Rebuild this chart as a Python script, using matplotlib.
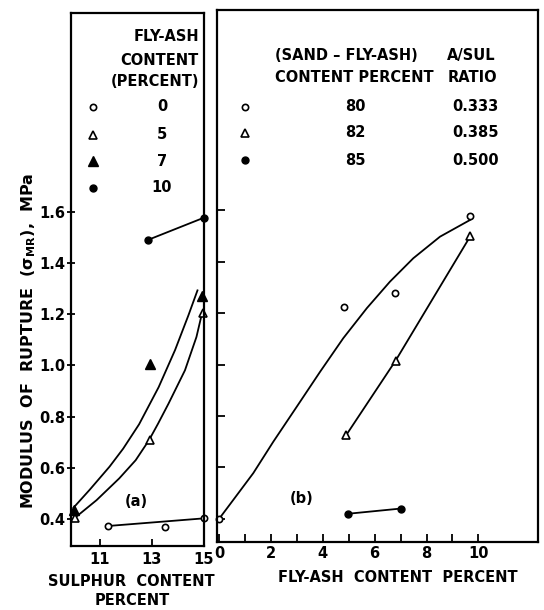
import matplotlib
matplotlib.use("Agg")
import matplotlib.pyplot as plt

plt.rcParams["font.family"] = "DejaVu Sans"
plt.rcParams["font.weight"] = "bold"
plt.rcParams["mathtext.default"] = "regular"

# ---- panel (a): modulus of rupture vs sulphur content ----
a_fa0_x = [11.3, 13.5, 15.0]          # 0 % fly-ash, open circles
a_fa0_y = [0.373, 0.368, 0.403]
a_fa5_x = [10.05, 12.92, 14.96]       # 5 %, open triangles
a_fa5_y = [0.405, 0.708, 1.205]
a_fa7_x = [10.03, 12.92, 14.94]       # 7 %, filled triangles
a_fa7_y = [0.435, 1.007, 1.273]
a_fa10_x = [12.85, 15.0]              # 10 %, filled circles
a_fa10_y = [1.49, 1.577]

# hand-drawn fit curves
a_curve5_x = [10.05, 10.88, 11.75, 12.38, 12.89, 13.24, 13.64, 14.27, 14.71, 14.92]
a_curve5_y = [0.405, 0.474, 0.559, 0.630, 0.708, 0.773, 0.851, 0.981, 1.111, 1.202]
a_curve7_x = [10.0, 10.62, 11.38, 11.9, 12.51, 13.26, 13.89, 14.40, 14.75]
a_curve7_y = [0.445, 0.515, 0.605, 0.675, 0.770, 0.915, 1.06, 1.195, 1.293]

# ---- panel (b): modulus of rupture vs fly-ash content ----
b_s80_x = [0.0, 4.8, 6.78, 9.69]      # 80 %, open circles
b_s80_y = [0.40, 1.226, 1.28, 1.577]
b_s82_x = [4.91, 6.81, 9.69]          # 82 %, open triangles
b_s82_y = [0.727, 1.016, 1.50]
b_s85_x = [4.99, 7.0]                 # 85 %, filled circles
b_s85_y = [0.42, 0.44]

b_curve80_x = [0.0, 0.55, 1.32, 2.09, 3.0, 3.9, 4.79, 5.7, 6.59, 7.49, 8.52, 9.68]
b_curve80_y = [0.40, 0.474, 0.578, 0.70, 0.837, 0.973, 1.103, 1.22, 1.323, 1.414, 1.498, 1.563]

legend_a = ["0", "5", "7", "10"]
legend_b_pct = ["80", "82", "85"]
legend_b_ratio = ["0.333", "0.385", "0.500"]

FS = 10.5
LW = 1.3
oc = dict(marker="o", ms=4.5, mfc="white", mec="black", mew=1.2, ls="none")
ot = dict(marker="^", ms=6, mfc="white", mec="black", mew=1.2, ls="none")
ft = dict(marker="^", ms=6.5, mfc="black", mec="black", ls="none")
fc = dict(marker="o", ms=5, mfc="black", mec="black", ls="none")

fig = plt.figure(figsize=(5.44, 6.10), dpi=100)
axa = fig.add_axes([0.1305, 0.1049, 0.2445, 0.8738])
axb = fig.add_axes([0.3989, 0.1115, 0.5901, 0.8721])

for ax in (axa, axb):
    for s in ax.spines.values():
        s.set_linewidth(1.6)

# panel (a)
axa.plot([a_fa0_x[0], a_fa0_x[-1]], [a_fa0_y[0], a_fa0_y[-1]], color="black", lw=LW)
axa.plot(a_fa0_x, a_fa0_y, clip_on=False, **oc)
axa.plot(a_curve5_x, a_curve5_y, color="black", lw=LW)
axa.plot(a_curve7_x, a_curve7_y, color="black", lw=LW)
axa.plot(a_fa5_x, a_fa5_y, clip_on=False, **ot)
axa.plot(a_fa7_x, a_fa7_y, clip_on=False, **ft)
axa.plot(a_fa10_x, a_fa10_y, color="black", lw=LW)
axa.plot(a_fa10_x, a_fa10_y, clip_on=False, **fc)
axa.set_xlim(9.9, 15.0)
axa.set_ylim(0.295, 2.376)
axa.set_xticks([11, 13, 15])
axa.set_yticks([0.4, 0.6, 0.8, 1.0, 1.2, 1.4, 1.6])
axa.set_yticklabels(["0.4", "0.6", "0.8", "1.0", "1.2", "1.4", "1.6"])
axa.tick_params(axis="y", direction="inout", length=6, width=1.3, pad=1, labelsize=FS)
axa.tick_params(axis="x", direction="in", length=5, width=1.3, pad=4, labelsize=FS)
axa.text(12.42, 0.467, "(a)", fontsize=FS, ha="center", va="center")

# legend of panel (a)
tr = axa.transAxes
axa.text(0.962, 0.955, "FLY-ASH", transform=tr, ha="right", va="center", fontsize=FS)
axa.text(0.962, 0.910, "CONTENT", transform=tr, ha="right", va="center", fontsize=FS)
axa.text(0.962, 0.871, "(PERCENT)", transform=tr, ha="right", va="center", fontsize=FS)
rows_a = [0.824, 0.772, 0.722, 0.672]
for st, lab, yy in zip([oc, ot, ft, fc], legend_a, rows_a):
    axa.plot([0.165], [yy], transform=tr, **st)
    axa.text(0.684, yy, lab, transform=tr, ha="center", va="center", fontsize=FS)

# panel (b)
axb.plot(b_curve80_x, b_curve80_y, color="black", lw=LW)
axb.plot(b_s80_x, b_s80_y, clip_on=False, **oc)
axb.plot(b_s82_x, b_s82_y, color="black", lw=LW)
axb.plot(b_s82_x, b_s82_y, **ot)
axb.plot(b_s85_x, b_s85_y, color="black", lw=LW)
axb.plot(b_s85_x, b_s85_y, **fc)
axb.set_xlim(-0.08, 12.3)
axb.set_ylim(0.31, 2.38)
axb.set_xticks([0, 2, 4, 6, 8, 10])
axb.set_xticks([1, 3, 5, 7, 9], minor=True)
axb.set_yticks([0.4, 0.6, 0.8, 1.0, 1.2, 1.4, 1.6])
axb.set_yticklabels([])
axb.tick_params(axis="both", which="both", direction="in", length=6, width=1.3, labelsize=FS)
axb.tick_params(axis="x", pad=3)
axb.text(3.2, 0.478, "(b)", fontsize=FS, ha="center", va="center")

trb = axb.transAxes
axb.text(0.181, 0.915, "(SAND – FLY-ASH)", transform=trb, ha="left", va="center", fontsize=FS)
axb.text(0.181, 0.874, "CONTENT PERCENT", transform=trb, ha="left", va="center", fontsize=FS)
axb.text(0.717, 0.915, "A/SUL", transform=trb, ha="left", va="center", fontsize=FS)
axb.text(0.717, 0.874, "RATIO", transform=trb, ha="left", va="center", fontsize=FS)
rows_b = [0.818, 0.769, 0.718]
for st, p, r, yy in zip([oc, ot, fc], legend_b_pct, legend_b_ratio, rows_b):
    axb.plot([0.087], [yy], transform=trb, **st)
    axb.text(0.43, yy, p, transform=trb, ha="center", va="center", fontsize=FS)
    axb.text(0.804, yy, r, transform=trb, ha="center", va="center", fontsize=FS)

fig.text(0.053, 0.441, r"MODULUS  OF  RUPTURE  ($\sigma_{\mathbf{MR}}$),  MPa",
         rotation=90, ha="center", va="center", fontsize=11.5)
fig.text(0.241, 0.046, "SULPHUR  CONTENT", ha="center", va="center", fontsize=FS)
fig.text(0.243, 0.016, "PERCENT", ha="center", va="center", fontsize=FS)
fig.text(0.732, 0.054, "FLY-ASH  CONTENT  PERCENT", ha="center", va="center", fontsize=FS)

fig.savefig("out.png", dpi=100)
